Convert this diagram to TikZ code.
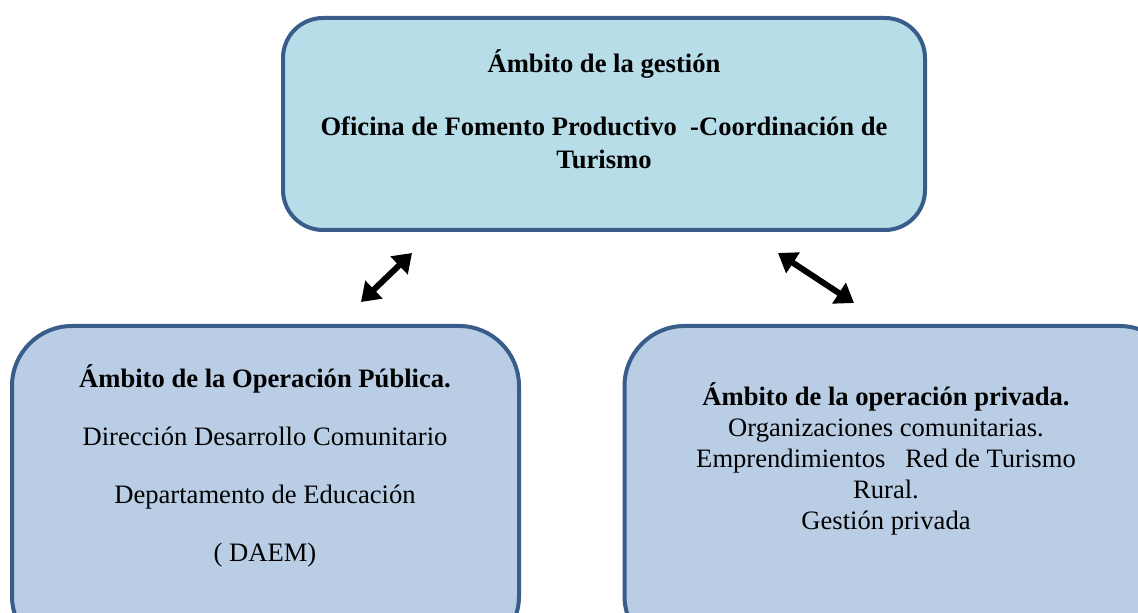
\documentclass[tikz,border=0pt]{standalone}
\usepackage{fontspec}
\setmainfont{Liberation Serif}
\usetikzlibrary{arrows.meta}
\usetikzlibrary{positioning}

\definecolor{boxline}{RGB}{56,93,138}
\definecolor{topfill}{RGB}{183,221,232}
\definecolor{lowfill}{RGB}{185,205,229}

\tikzset{
  ambito/.style={draw=boxline, line width=2pt, inner sep=0pt},
  texto/.style={align=center, text=black},
}

\begin{document}
\begin{tikzpicture}[x=0.5pt, y=-0.5pt, >={Triangle[length=9pt, width=12pt]}]
      \useasboundingbox (0,0) rectangle (1138,613);
      \clip (0,0) rectangle (1138,613);

      % cajas
      \node[ambito, fill=topfill, rounded corners=20pt,
            minimum width=321pt, minimum height=106pt] (gestion) at (604,124) {};
      \node[ambito, fill=lowfill, rounded corners=30pt,
            minimum width=253.5pt, minimum height=165pt] (publica) at (265.5,491) {};
      \node[ambito, fill=lowfill, rounded corners=30pt,
            minimum width=277.5pt, minimum height=165pt] (privada) at (902,491) {};

      % textos
      \node[texto, font=\fontsize{13.3}{16.5}\selectfont\bfseries] (gestion-txt) at (604,109)
           {Ámbito de la gestión\\[15pt]
            Oficina de Fomento Productivo\ \ -Coordinación de\\
            Turismo};
      \node[texto, font=\fontsize{13.3}{14.5}\selectfont] (publica-txt) at (265,466)
           {\textbf{Ámbito de la Operación Pública.}\\[14.5pt]
            Dirección Desarrollo Comunitario\\[14.5pt]
            Departamento de Educación\\[14.5pt]
            ( DAEM)};
      \node[texto, font=\fontsize{13.3}{15.5}\selectfont] (privada-txt) at (886,459)
           {\textbf{Ámbito de la operación privada.}\\
            Organizaciones comunitarias.\\
            Emprendimientos\ \ \ Red de Turismo\\
            Rural.\\
            Gestión privada};

      % flechas
      \coordinate (pub-a) at (361,302);
      \coordinate (pub-b) at (412,253);
      \coordinate (pri-a) at (778,253);
      \coordinate (pri-b) at (854,303);
      \draw[<->, line width=3pt] (pub-a) -- (pub-b);
      \draw[<->, line width=3pt] (pri-a) -- (pri-b);
\end{tikzpicture}
\end{document}
